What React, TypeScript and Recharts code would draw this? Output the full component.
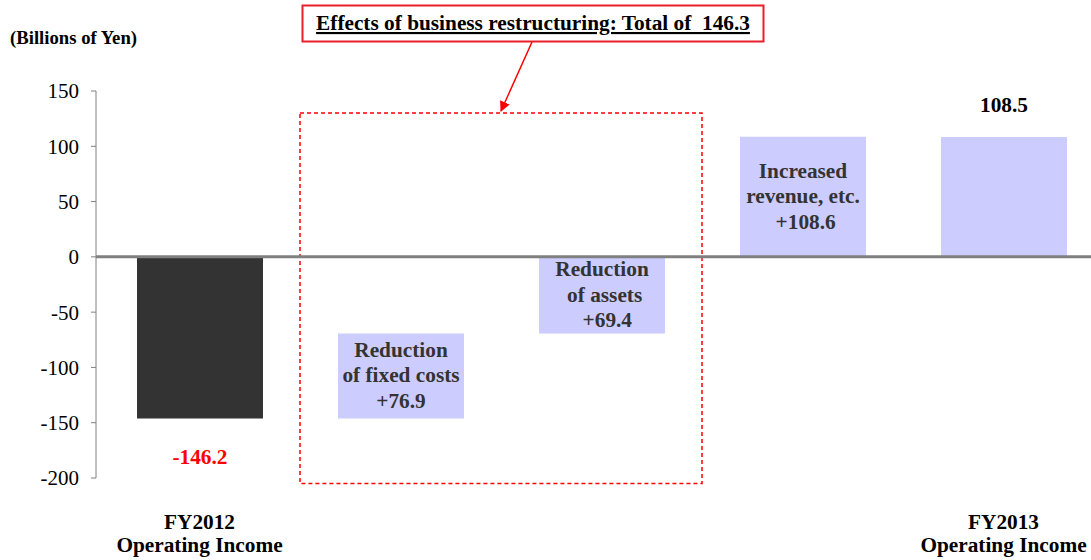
import React from 'react';
import { BarChart, Bar, XAxis, YAxis, Cell, ReferenceLine, ReferenceArea, LabelList } from 'recharts';

const categories = [
  'FY2012 Operating Income',
  'Reduction of fixed costs',
  'Reduction of assets',
  'Increased revenue, etc.',
  'FY2013 Operating Income',
];
const barStarts = [0, -146.2, -69.4, 0, 0];
const barEnds = [-146.2, -69.3, 0, 108.6, 108.5];
const barColors = ['#333333', '#CCCCFF', '#CCCCFF', '#CCCCFF', '#CCCCFF'];
const innerLabels = [
  [],
  ['Reduction', 'of fixed costs', '+76.9'],
  ['Reduction', ' of assets', '  +69.4'],
  ['Increased', 'revenue, etc.', ' +108.6'],
  [],
];
const outerLabels = ['-146.2', '', '', '', '108.5'];
const outerLabelColors = ['#FF0000', '#000000', '#000000', '#000000', '#000000'];
const axisLabels = [['FY2012', 'Operating Income'], [], [], [], ['FY2013', 'Operating Income']];
const yTicks = [-200, -150, -100, -50, 0, 50, 100, 150];
const yDomain = [-200, 150];
const unitLabel = '(Billions of Yen)';
const effectsTitle = 'Effects of business restructuring: Total of  146.3';
const effectsAreaTop = 130;
const effectsAreaBottom = -205;

const FONT = 'Liberation Serif, DejaVu Serif, Noto Serif, serif';
const LABEL_SIZE = 21.3;

const data = categories.map((name, i) => ({
  name,
  idx: i,
  range: [Math.min(barStarts[i], barEnds[i]), Math.max(barStarts[i], barEnds[i])],
}));

const InnerLabel = (props: any) => {
  const { x, y, width, height, value } = props;
  const i = Number(value);
  const lines = innerLabels[i] || [];
  const cx = Number(x) + Number(width) / 2;
  const top = Math.min(Number(y), Number(y) + Number(height));
  const cy = top + Math.abs(Number(height)) / 2;
  const out: any[] = [];
  lines.forEach((t, k) => {
    out.push(
      <text
        key={'in' + k}
        x={cx}
        y={cy + (k - 1) * 25.5 - 0.5}
        textAnchor="middle"
        dominantBaseline="central"
        fill="#333333"
        style={{ whiteSpace: 'pre', fontFamily: FONT, fontWeight: 'bold', fontSize: LABEL_SIZE }}
      >
        {t}
      </text>
    );
  });
  const ol = outerLabels[i];
  if (ol) {
    const isNeg = barEnds[i] < 0;
    const bottom = top + Math.abs(Number(height));
    out.push(
      <text
        key="out"
        x={cx}
        y={isNeg ? bottom + 38 : top - 32}
        textAnchor="middle"
        dominantBaseline="central"
        fill={outerLabelColors[i]}
        style={{ fontFamily: FONT, fontWeight: 'bold', fontSize: LABEL_SIZE }}
      >
        {ol}
      </text>
    );
  }
  return <g>{out}</g>;
};

const CategoryTick = (props: any) => {
  const { x, y, payload } = props;
  const i = categories.indexOf(payload.value);
  const lines = axisLabels[i] || [];
  return (
    <g>
      {lines.map((t, k) => (
        <text
          key={k}
          x={x}
          y={y + 50.5 + k * 23.5}
          textAnchor="middle"
          fill="#000000"
          style={{ fontFamily: FONT, fontWeight: 'bold', fontSize: LABEL_SIZE }}
        >
          {t}
        </text>
      ))}
    </g>
  );
};

export default function App() {
  return (
    <div
      style={{
        position: 'absolute',
        left: 0,
        top: 0,
        width: 1091,
        height: 560,
        overflow: 'hidden',
        background: '#ffffff',
        fontFamily: FONT,
      }}
    >
      <BarChart
        width={1104}
        height={560}
        data={data}
        margin={{ top: 91, right: 0, bottom: 2, left: 0 }}
        barSize={126}
        style={{ fontFamily: FONT }}
      >
        <XAxis
          dataKey="name"
          type="category"
          axisLine={false}
          tickLine={false}
          tickSize={0}
          tickMargin={0}
          height={80}
          interval={0}
          padding={{ left: 3, right: 0 }}
          tick={<CategoryTick />}
        />
        <YAxis
          type="number"
          domain={yDomain}
          ticks={yTicks}
          width={96}
          axisLine={{ stroke: '#808080', strokeWidth: 1 }}
          tickLine={{ stroke: '#808080', strokeWidth: 1 }}
          tickSize={5}
          tickMargin={12}
          tick={{ fill: '#000000', fontSize: 21, fontFamily: FONT, style: { fontFamily: FONT } }}
          allowDataOverflow
        />
        <ReferenceArea
          x1={categories[1]}
          x2={categories[2]}
          y1={effectsAreaBottom}
          y2={effectsAreaTop}
          ifOverflow="visible"
          fill="none"
          fillOpacity={0}
          stroke="#FF0000"
          strokeWidth={1.5}
          strokeDasharray="4 3"
        />
        <Bar dataKey="range" isAnimationActive={false}>
          {data.map((d, i) => (
            <Cell key={d.name} fill={barColors[i]} />
          ))}
          <LabelList dataKey="idx" content={<InnerLabel />} />
        </Bar>
        <ReferenceLine y={0} stroke="#808080" strokeWidth={3} />
      </BarChart>
      <svg
        width={1091}
        height={560}
        style={{ position: 'absolute', left: 0, top: 0, pointerEvents: 'none' }}
      >
        <defs>
          <marker id="arrowHead" viewBox="0 0 10 10" refX="9" refY="5" markerWidth="7" markerHeight="7" orient="auto">
            <path d="M0,0 L10,5 L0,10 z" fill="#FF0000" />
          </marker>
        </defs>
        <text x={10} y={43.5} fill="#000000" style={{ fontFamily: FONT, fontWeight: 'bold', fontSize: 18.7 }}>
          {unitLabel}
        </text>
        <rect x={302.5} y={5.5} width={461} height={36} fill="#ffffff" stroke="#E8202A" strokeWidth={2} />
        <text
          x={533}
          y={30}
          textAnchor="middle"
          fill="#000000"
          style={{ whiteSpace: 'pre', textDecoration: 'underline', fontFamily: FONT, fontWeight: 'bold', fontSize: LABEL_SIZE }}
        >
          {effectsTitle}
        </text>
        <line x1={532} y1={42} x2={501} y2={111} stroke="#FF0000" strokeWidth={1.5} markerEnd="url(#arrowHead)" />
      </svg>
    </div>
  );
}
